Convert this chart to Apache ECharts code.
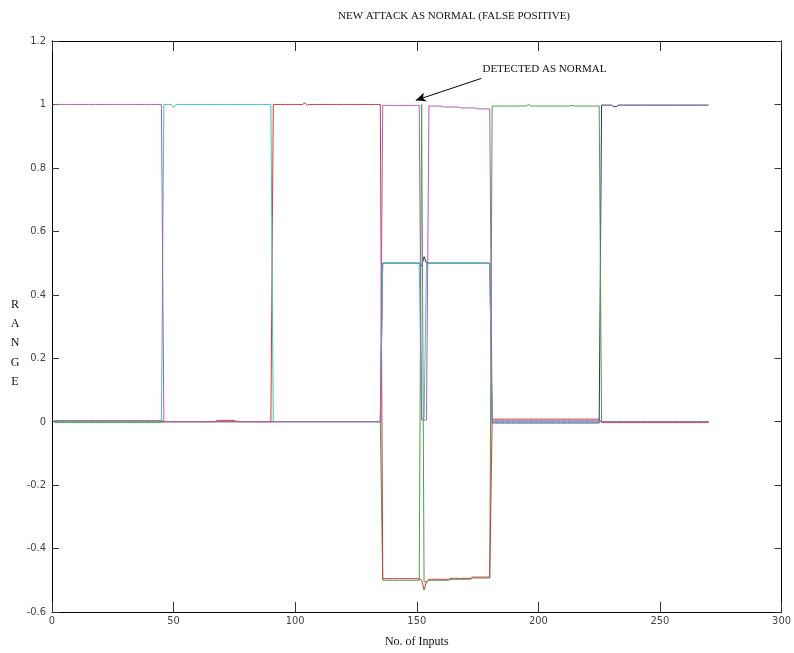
<!DOCTYPE html>
<html>
<head>
<meta charset="utf-8">
<script src="https://cdn.jsdelivr.net/npm/echarts@6/dist/echarts.min.js"></script>
<style>
  html, body { margin: 0; padding: 0; background: #fff; }
  #chart { width: 794px; height: 653px; }
</style>
</head>
<body>
<div id="chart"></div>
<script>
// Network outputs for 270 input samples, stored as runs of [value, count].
// Samples 1-45, 46-90, 91-135, 181-225, 226-270 are known classes;
// samples 136-180 are the new attack.
const blueRuns = [[0, 135], [0.5, 16], [0.49, 1], [0.52, 1], [0.5, 27], [-0.004, 45], [0.998, 5], [0.993, 2], [0.998, 38]];
const greenRuns = [[-0.003, 45], [0, 90], [-0.5, 16], [1, 1], [-0.505, 2], [-0.5, 9], [-0.497, 9], [-0.493, 8], [0.995, 15], [1.0, 1], [0.995, 17], [0.997, 1], [0.995, 11], [0, 45]];
const redRuns = [[0.003, 45], [0, 22], [0.004, 8], [0, 15], [1, 13], [1.005, 1], [0.998, 1], [1, 30], [-0.495, 16], [-0.5, 1], [-0.53, 1], [-0.505, 1], [-0.497, 9], [-0.494, 9], [-0.49, 8], [0.008, 45], [-0.003, 45]];
const cyanRuns = [[0, 45], [1, 4], [0.99, 1], [1, 40], [0, 45], [0.5, 16], [0.01, 2], [0.5, 27], [0, 90]];
const magentaRuns = [[1, 45], [0, 90], [0.997, 16], [0.005, 3], [0.995, 6], [0.992, 7], [0.989, 7], [0.986, 6], [0.003, 45], [0, 45]];

const seriesNames = ['Output 1', 'Output 2', 'Output 3', 'Output 4', 'Output 5'];
const seriesColors = ['#2e2e78', '#4c9f4c', '#c83a3a', '#45c0c0', '#b25cb2'];

const xTicks = [0, 50, 100, 150, 200, 250, 300];
const yTicks = [-0.6, -0.4, -0.2, 0, 0.2, 0.4, 0.6, 0.8, 1, 1.2];

// Arrow annotation pointing at the misclassified sample
const arrowFrom = [176.5, 1.082];
const arrowTo = [149.6, 1.013];
const noteAt = [177, 1.11];
const noteText = 'DETECTED AS NORMAL';

function expand(runs) {
  const out = [];
  runs.forEach(([v, n]) => { for (let i = 0; i < n; i++) out.push(v); });
  return out.map((v, i) => [i + 1, v]);
}

const allRuns = [blueRuns, greenRuns, redRuns, cyanRuns, magentaRuns];

const tickFont = "'Liberation Sans Narrow', 'DejaVu Sans Condensed', 'Arial Narrow', sans-serif";
const serifFont = "'Liberation Serif', 'DejaVu Serif', serif";

const chart = echarts.init(document.getElementById('chart'), null, { renderer: 'canvas' });

const series = allRuns.map((runs, k) => ({
  name: seriesNames[k],
  type: 'line',
  data: expand(runs),
  showSymbol: false,
  symbol: 'none',
  silent: true,
  animation: false,
  lineStyle: { color: seriesColors[k], width: 1 },
  itemStyle: { color: seriesColors[k] },
  z: 2 + k
}));

series[4].markLine = {
  silent: true,
  animation: false,
  symbol: ['none', 'arrow'],
  symbolSize: [7, 10],
  lineStyle: { color: '#000', width: 1, type: 'solid' },
  label: { show: false },
  data: [[{ coord: arrowFrom }, { coord: arrowTo }]]
};
series[4].markPoint = {
  silent: true,
  animation: false,
  symbol: 'circle',
  symbolSize: 0,
  label: {
    show: true,
    position: 'right',
    distance: 0,
    formatter: noteText,
    color: '#111',
    fontFamily: serifFont,
    fontSize: 11
  },
  data: [{ coord: noteAt }]
};

const fmt = v => String(+(+v).toFixed(1));

const baseX = {
  type: 'value', min: xTicks[0], max: xTicks[xTicks.length - 1], interval: 50,
  splitLine: { show: false },
  axisLine: { show: true, onZero: false, lineStyle: { color: '#000', width: 1 } },
  axisTick: { show: true, inside: true, length: 10, lineStyle: { color: '#333' } }
};
const baseY = {
  type: 'value', min: yTicks[0], max: yTicks[yTicks.length - 1], interval: 0.2,
  splitLine: { show: false },
  axisLine: { show: true, onZero: false, lineStyle: { color: '#000', width: 1 } },
  axisTick: { show: true, inside: true, length: 7, lineStyle: { color: '#333' } }
};

chart.setOption({
  animation: false,
  backgroundColor: '#fff',
  grid: { left: 52, right: 4, top: 41, bottom: 41, containLabel: false },
  xAxis: [
    Object.assign({}, baseX, {
      position: 'bottom',
      name: 'No. of Inputs',
      nameLocation: 'middle',
      nameGap: 24,
      nameTextStyle: { color: '#111', fontFamily: serifFont, fontSize: 12 },
      axisLabel: { show: true, margin: 4, color: '#444', fontFamily: tickFont, fontSize: 11, formatter: fmt }
    }),
    Object.assign({}, baseX, { position: 'top', axisLabel: { show: false } })
  ],
  yAxis: [
    Object.assign({}, baseY, {
      position: 'left',
      axisLabel: { show: true, margin: 6, color: '#444', fontFamily: tickFont, fontSize: 11, formatter: fmt }
    }),
    Object.assign({}, baseY, { position: 'right', axisLabel: { show: false } })
  ],
  graphic: [
    {
      type: 'text',
      x: 454, y: 16,
      style: {
        text: 'NEW ATTACK AS NORMAL (FALSE POSITIVE)',
        textAlign: 'center', textVerticalAlign: 'middle',
        fill: '#111', font: "11px 'Liberation Serif', 'DejaVu Serif', serif"
      }
    },
    {
      type: 'text',
      x: 15, y: 295,
      style: {
        text: 'R\nA\nN\nG\nE',
        textAlign: 'center',
        lineHeight: 19.3,
        fill: '#111', font: "12px 'Liberation Serif', 'DejaVu Serif', serif"
      }
    }
  ],
  series: series
});
</script>
</body>
</html>
